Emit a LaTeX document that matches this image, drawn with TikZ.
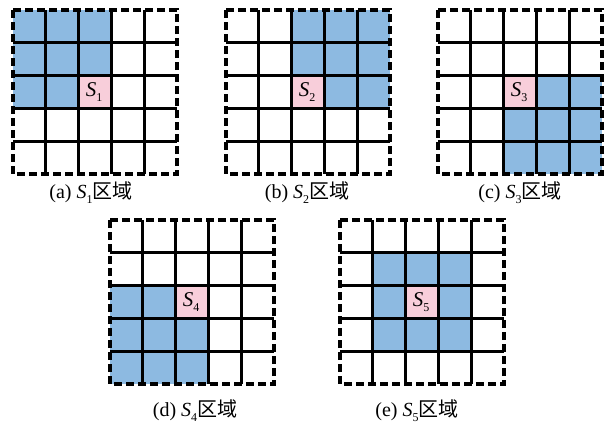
\documentclass[tikz,border=0pt]{standalone}
\usepackage{fontspec}
\setmainfont{Liberation Serif}
\newfontfamily\cjk{Noto Sans CJK SC}
\definecolor{cellblue}{RGB}{141,186,225}
\definecolor{cellpink}{RGB}{248,206,218}
\tikzset{
  gridline/.style={line width=2.8pt, black},
  borderline/.style={line width=3.4pt, black, dash pattern=on 8pt off 4pt},
  caption/.style={font=\fontsize{20}{22}\selectfont, inner sep=0pt},
  slabel/.style={font=\fontsize{21}{22}\selectfont, inner sep=0pt}
}
\newcommand{\sub}[1]{\raisebox{-0.55ex}{\fontsize{12}{12}\selectfont #1}}
\newcommand{\gridpanel}[4]{% x, y, blue cells (row/col), index
  \begin{scope}[shift={(#1,#2)}]
    \foreach \rr/\cc in {#3} \fill[cellblue] (\cc*32.8,\rr*32.8) rectangle ++(32.8,32.8);
    \fill[cellpink] (65.6,65.6) rectangle ++(32.8,32.8);
    \foreach \k in {1,...,4} {
      \draw[gridline] (\k*32.8,0) -- (\k*32.8,164);
      \draw[gridline] (0,\k*32.8) -- (164,\k*32.8);
    }
    \draw[borderline] (0,0) rectangle (164,164);
    \node[slabel] (s#4) at (81,82) {\textit{S}\sub{#4}};
  \end{scope}}
\begin{document}
\begin{tikzpicture}[x=1pt,y=-1pt]
  \useasboundingbox (0,0) rectangle (614,424);
  \fill[white] (0,0) rectangle (614,424);
  \gridpanel{13}{10}{0/0,0/1,0/2,1/0,1/1,1/2,2/0,2/1}{1}
  \gridpanel{226}{10}{0/2,0/3,0/4,1/2,1/3,1/4,2/3,2/4}{2}
  \gridpanel{438}{10}{2/3,2/4,3/2,3/3,3/4,4/2,4/3,4/4}{3}
  \gridpanel{110}{220}{2/0,2/1,3/0,3/1,3/2,4/0,4/1,4/2}{4}
  \gridpanel{340}{220}{1/1,1/2,1/3,2/1,2/3,3/1,3/2,3/3}{5}
  \node[caption] (ca) at (91,193) {(a) \textit{S}\sub{1}{\cjk 区域}};
  \node[caption] (cb) at (307,193) {(b) \textit{S}\sub{2}{\cjk 区域}};
  \node[caption] (cc) at (520,193) {(c) \textit{S}\sub{3}{\cjk 区域}};
  \node[caption] (cd) at (195,411) {(d) \textit{S}\sub{4}{\cjk 区域}};
  \node[caption] (ce) at (417,411) {(e) \textit{S}\sub{5}{\cjk 区域}};
\end{tikzpicture}
\end{document}
